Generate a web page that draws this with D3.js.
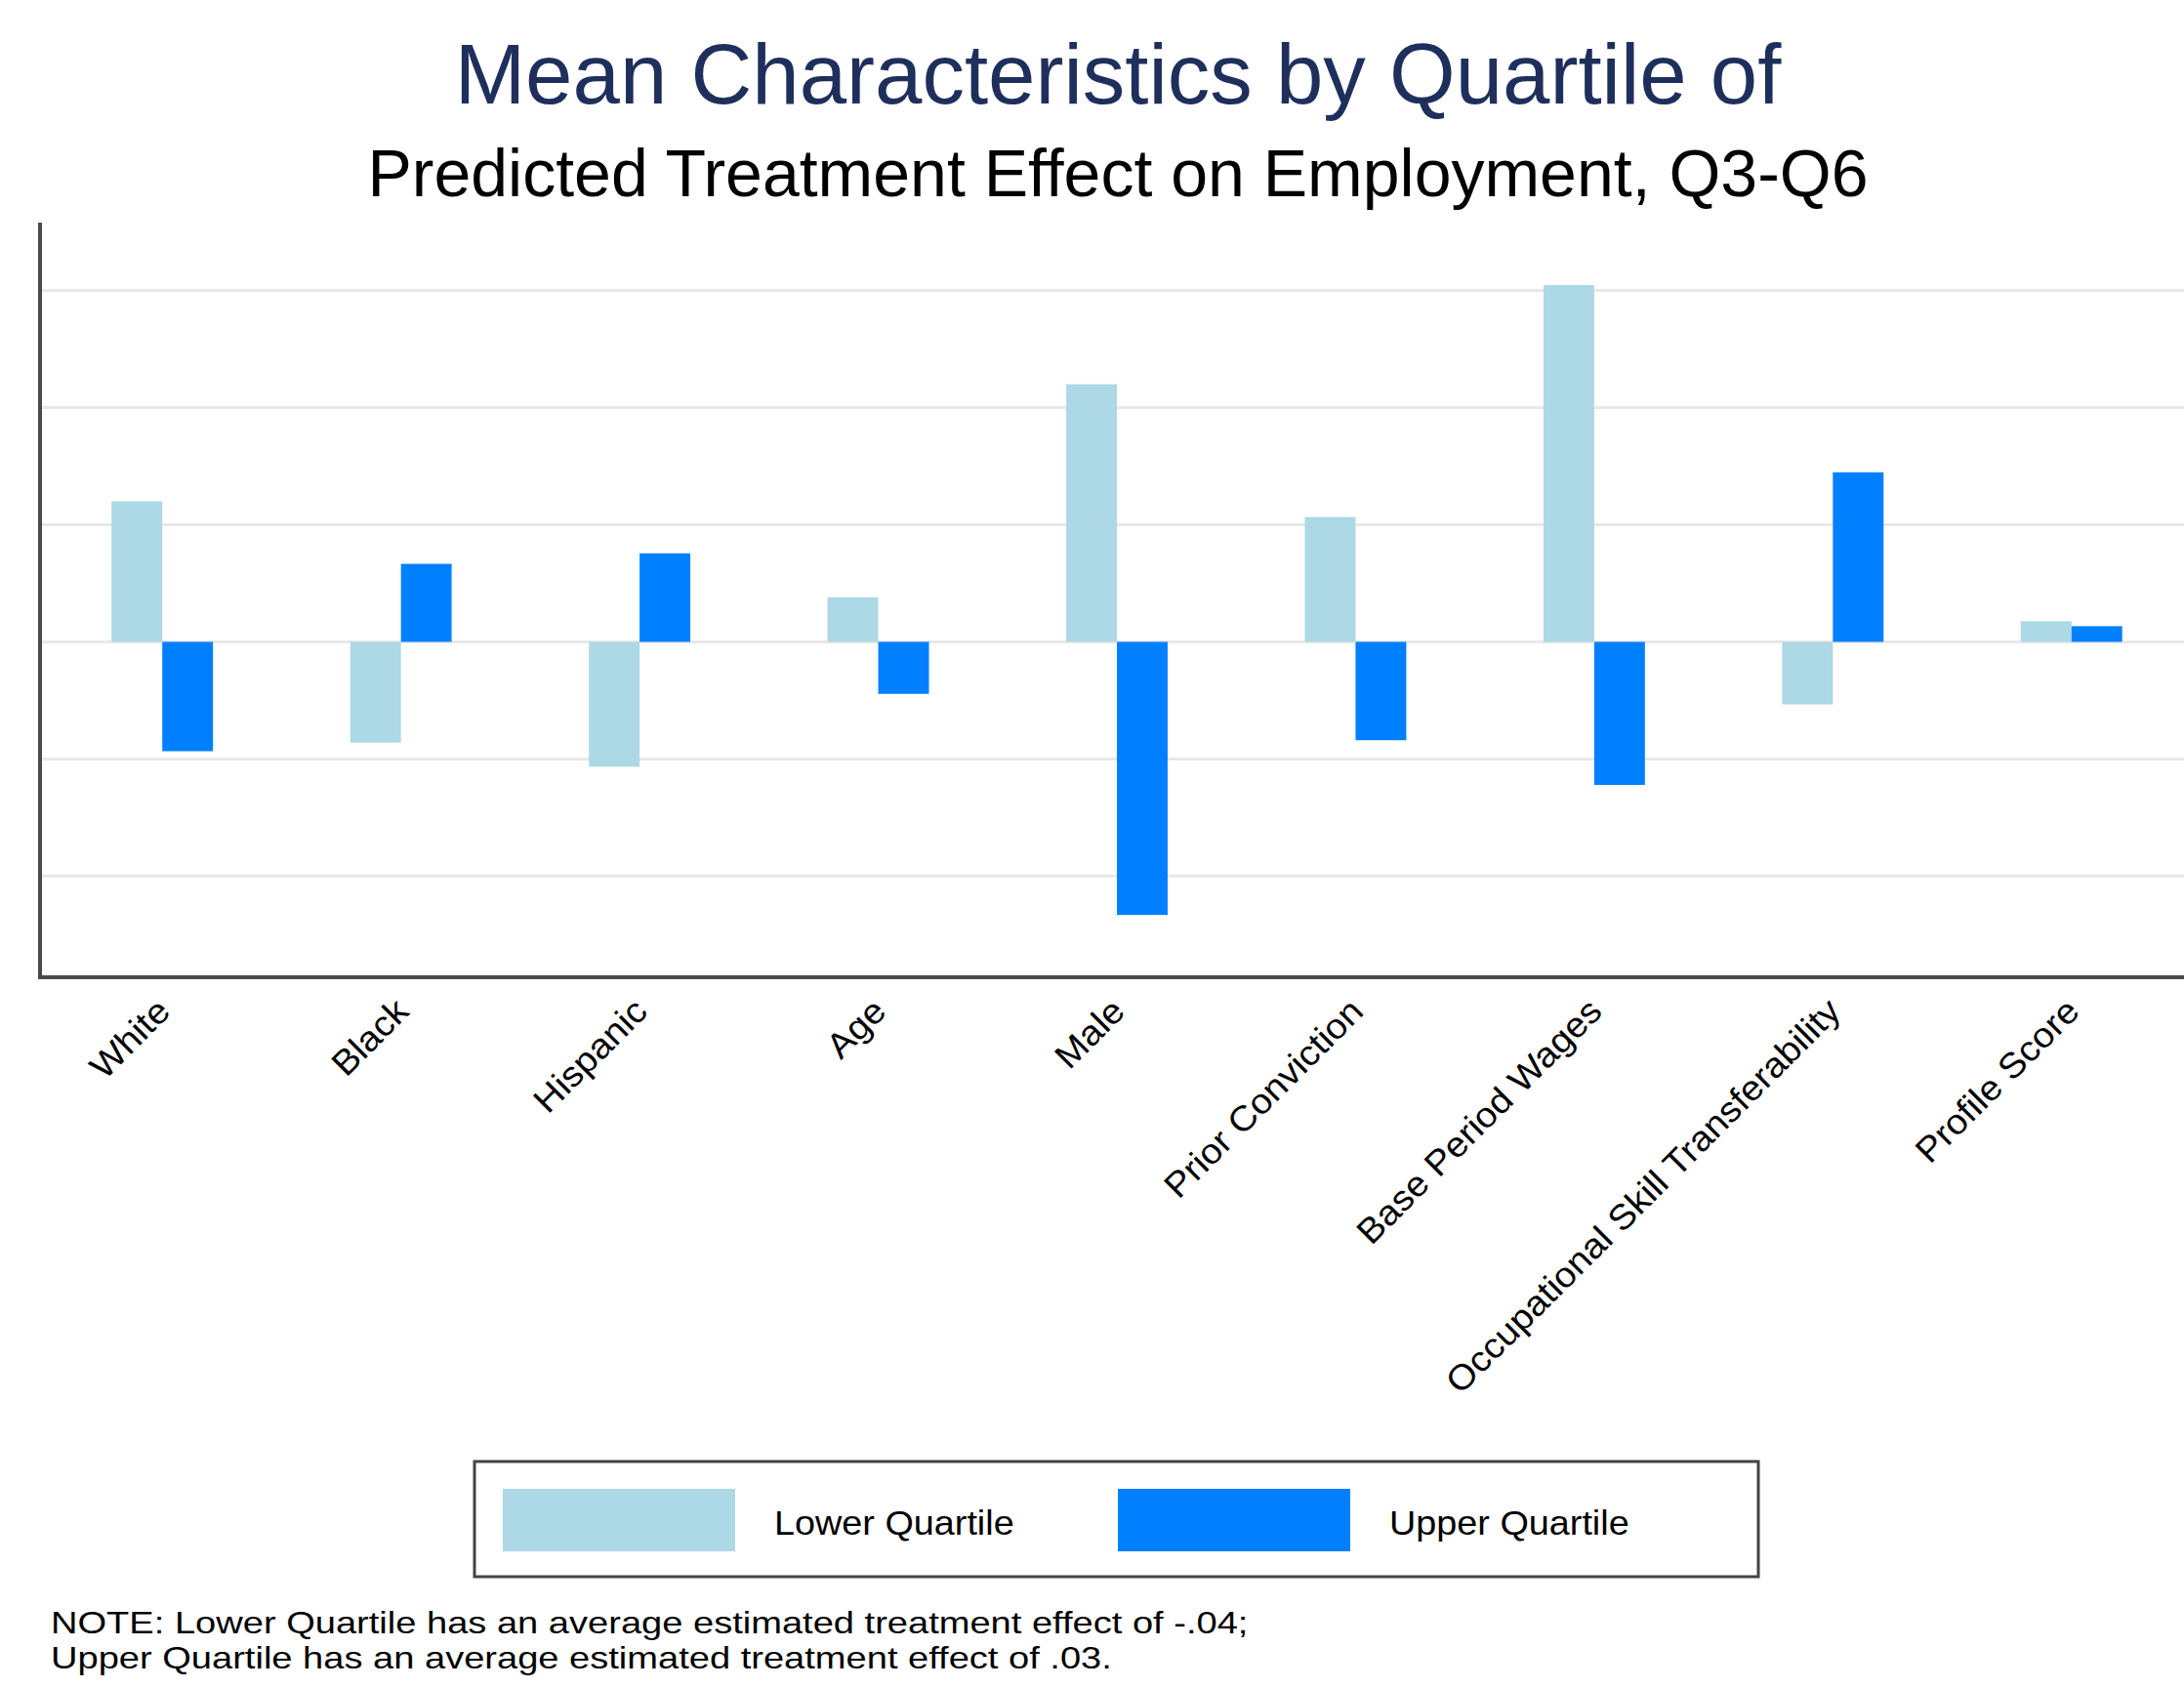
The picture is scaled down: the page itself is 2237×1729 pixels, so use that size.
<!DOCTYPE html>
<html>
<head>
<meta charset="utf-8">
<script src="https://cdn.jsdelivr.net/npm/d3@7"></script>
<style>
  body { margin: 0; background: #fff; }
  text { font-family: "Liberation Sans", Arial, sans-serif; }
</style>
</head>
<body>
<script>
// categories and values (units of half a gridline step)
let categories = ["White", "Black", "Hispanic", "Age", "Male", "Prior Conviction",
    "Base Period Wages", "Occupational Skill Transferability", "Profile Score"];
let seriesNames = ["Lower Quartile", "Upper Quartile"];
let lowerQuartile = [0.600, -0.430, -0.533, 0.190, 1.100, 0.533, 1.523, -0.267, 0.088];
let upperQuartile = [-0.467, 0.333, 0.378, -0.222, -1.166, -0.420, -0.611, 0.724, 0.067];
let gridTicks = [-1, -0.5, 0, 0.5, 1, 1.5];

let w = 2237;
let h = 1729;
let colors = ["#add8e6", "#0080ff"];
// the original font runs a little wider than Liberation Sans
let stretch = 1.08;

let svg = d3.select("body")
    .append("svg")
    .attr("width", w)
    .attr("height", h);

// titles
svg.append("text")
    .attr("x", 1145).attr("y", 106)
    .attr("text-anchor", "middle")
    .attr("font-size", "87px")
    .attr("fill", "#1f2f5c")
    .text("Mean Characteristics by Quartile of");

svg.append("text")
    .attr("x", 1145).attr("y", 201)
    .attr("text-anchor", "middle")
    .attr("font-size", "68px")
    .attr("fill", "#000")
    .text("Predicted Treatment Effect on Employment, Q3-Q6");

// scales
let plotLeft = 41, plotTop = 228, plotBottom = 1001;

let y = d3.scaleLinear()
    .domain([-1.432, 1.79])
    .range([plotBottom, plotTop]);

let x0 = d3.scaleBand()
    .domain(categories)
    .range([44, 2244])
    .paddingInner(0.575)
    .paddingOuter(0.2875);

let x1 = d3.scaleBand()
    .domain(seriesNames)
    .range([0, x0.bandwidth()]);

// gridlines
svg.append("g")
    .selectAll("line")
    .data(gridTicks)
    .enter()
    .append("line")
    .attr("x1", plotLeft).attr("x2", w)
    .attr("y1", d => y(d)).attr("y2", d => y(d))
    .attr("stroke", "#e8e8e8")
    .attr("stroke-width", 3);

// bars
let rows = categories.map((c, i) => ({cat: c, vals: [lowerQuartile[i], upperQuartile[i]]}));

let groups = svg.append("g")
    .selectAll("g")
    .data(rows)
    .enter()
    .append("g")
    .attr("transform", d => "translate(" + x0(d.cat) + ",0)");

groups.selectAll("rect")
    .data(d => d.vals.map((v, k) => ({name: seriesNames[k], v: v, k: k})))
    .enter()
    .append("rect")
    .attr("x", d => x1(d.name))
    .attr("width", x1.bandwidth())
    .attr("y", d => y(Math.max(0, d.v)))
    .attr("height", d => Math.abs(y(d.v) - y(0)))
    .attr("fill", d => colors[d.k]);

// axes lines
svg.append("line")
    .attr("x1", plotLeft).attr("x2", plotLeft)
    .attr("y1", plotTop).attr("y2", plotBottom)
    .attr("stroke", "#4a4a4a").attr("stroke-width", 4);

svg.append("line")
    .attr("x1", plotLeft - 2).attr("x2", w)
    .attr("y1", plotBottom).attr("y2", plotBottom)
    .attr("stroke", "#4a4a4a").attr("stroke-width", 4);

// rotated category labels
svg.append("g")
    .selectAll("text")
    .data(categories)
    .enter()
    .append("text")
    .attr("transform", d => {
        let cx = x0(d) + x0.bandwidth() / 2 + 10;
        return "translate(" + cx + ",1038) rotate(-45) scale(1.065,1)";
    })
    .attr("text-anchor", "end")
    .attr("font-size", "36px")
    .attr("fill", "#000")
    .text(d => d);

// legend
let legend = svg.append("g");
legend.append("rect")
    .attr("x", 486).attr("y", 1497)
    .attr("width", 1315).attr("height", 118)
    .attr("fill", "none")
    .attr("stroke", "#444").attr("stroke-width", 3);

let legendX = [515, 1145];
seriesNames.forEach((name, k) => {
    legend.append("rect")
        .attr("x", legendX[k]).attr("y", 1525)
        .attr("width", 238).attr("height", 64)
        .attr("fill", colors[k]);
    legend.append("text")
        .attr("transform", "translate(" + (legendX[k] + 278) + ",1572) scale(" + stretch + ",1)")
        .attr("font-size", "35px")
        .attr("fill", "#000")
        .text(name);
});

// note
let notes = ["NOTE: Lower Quartile has an average estimated treatment effect of -.04;",
    "Upper Quartile has an average estimated treatment effect of .03."];
svg.append("g")
    .selectAll("text")
    .data(notes)
    .enter()
    .append("text")
    .attr("transform", (d, i) => "translate(52," + (1673 + i * 36) + ") scale(1.19,1)")
    .attr("font-size", "32px")
    .attr("fill", "#000")
    .text(d => d);
</script>
</body>
</html>
